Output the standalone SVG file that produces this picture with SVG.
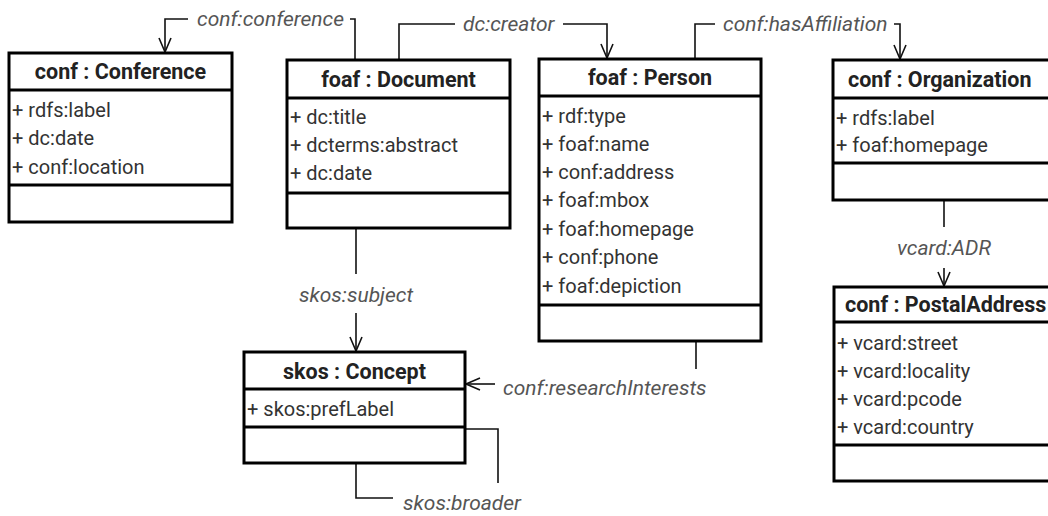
<svg xmlns="http://www.w3.org/2000/svg" width="1048" height="516" viewBox="0 0 1048 516">
<style>
.box{fill:#fff;stroke:#000;stroke-width:3}
.div{stroke:#000;stroke-width:3}
.title{font-family:Roboto,"Liberation Sans",sans-serif;font-weight:bold;font-size:21.5px;fill:#222;text-anchor:middle}
.attr{font-family:Roboto,"Liberation Sans",sans-serif;font-size:20px;fill:#333}
.lbl{font-family:Roboto,"Liberation Sans",sans-serif;font-style:italic;font-size:21px;fill:#555}
.con{fill:none;stroke:#111;stroke-width:1.6}
</style>
<defs>
<marker id="arr" markerUnits="userSpaceOnUse" markerWidth="20" markerHeight="20" refX="15" refY="7" orient="auto">
<path d="M1,1 L15,7 L1,13" fill="none" stroke="#111" stroke-width="1.6"/>
</marker>
</defs>
<rect width="1048" height="516" fill="#fff"/>
<g id="connectors">
<path class="con" d="M355,60 V19 H350"/>
<path class="con" d="M188,19 H165 V52" marker-end="url(#arr)"/>
<text class="lbl" x="197" y="26">conf:conference</text>
<path class="con" d="M399,60 V24 H455"/>
<path class="con" d="M563,24 H607 V58" marker-end="url(#arr)"/>
<text class="lbl" x="463" y="31">dc:creator</text>
<path class="con" d="M695,59 V24 H715"/>
<path class="con" d="M894,24 H900 V59" marker-end="url(#arr)"/>
<text class="lbl" x="723" y="31">conf:hasAffiliation</text>
<path class="con" d="M944,200 V227"/>
<path class="con" d="M944,268 V286" marker-end="url(#arr)"/>
<text class="lbl" x="944" y="255" text-anchor="middle">vcard:ADR</text>
<path class="con" d="M356,228 V274"/>
<path class="con" d="M356,313 V351" marker-end="url(#arr)"/>
<text class="lbl" x="356" y="302" text-anchor="middle">skos:subject</text>
<path class="con" d="M696,341 V369"/>
<path class="con" d="M495,384 H466" marker-end="url(#arr)"/>
<text class="lbl" x="503" y="395">conf:researchInterests</text>
<path class="con" d="M465,429 H498 V483"/>
<path class="con" d="M356,463 V498 H393"/>
<text class="lbl" x="403" y="510">skos:broader</text>
</g>
<g id="conference">
<rect class="box" x="9" y="53" width="223" height="169"/>
<line class="div" x1="9" y1="90" x2="232" y2="90"/>
<line class="div" x1="9" y1="185" x2="232" y2="185"/>
<text class="title" x="120.5" y="79">conf : Conference</text>
<text class="attr" x="12" y="117">+ rdfs:label</text>
<text class="attr" x="12" y="145">+ dc:date</text>
<text class="attr" x="12" y="174">+ conf:location</text>
</g>
<g id="document">
<rect class="box" x="287" y="60" width="223" height="168"/>
<line class="div" x1="287" y1="98" x2="510" y2="98"/>
<line class="div" x1="287" y1="193" x2="510" y2="193"/>
<text class="title" x="398.5" y="87">foaf : Document</text>
<text class="attr" x="290" y="124">+ dc:title</text>
<text class="attr" x="290" y="152">+ dcterms:abstract</text>
<text class="attr" x="290" y="180">+ dc:date</text>
</g>
<g id="person">
<rect class="box" x="539" y="59" width="222" height="282"/>
<line class="div" x1="539" y1="96" x2="761" y2="96"/>
<line class="div" x1="539" y1="305" x2="761" y2="305"/>
<text class="title" x="650" y="85">foaf : Person</text>
<text class="attr" x="542" y="123">+ rdf:type</text>
<text class="attr" x="542" y="151">+ foaf:name</text>
<text class="attr" x="542" y="179">+ conf:address</text>
<text class="attr" x="542" y="207">+ foaf:mbox</text>
<text class="attr" x="542" y="236">+ foaf:homepage</text>
<text class="attr" x="542" y="264">+ conf:phone</text>
<text class="attr" x="542" y="293">+ foaf:depiction</text>
</g>
<g id="organization">
<rect class="box" x="833" y="60" width="240" height="140"/>
<line class="div" x1="833" y1="98" x2="1073" y2="98"/>
<line class="div" x1="833" y1="163" x2="1073" y2="163"/>
<text class="title" x="848" y="87" style="text-anchor:start">conf : Organization</text>
<text class="attr" x="836" y="125">+ rdfs:label</text>
<text class="attr" x="836" y="152">+ foaf:homepage</text>
</g>
<g id="postaladdress">
<rect class="box" x="834" y="287" width="240" height="194"/>
<line class="div" x1="834" y1="322" x2="1074" y2="322"/>
<line class="div" x1="834" y1="445" x2="1074" y2="445"/>
<text class="title" x="845" y="312" style="text-anchor:start">conf : PostalAddress</text>
<text class="attr" x="837" y="350">+ vcard:street</text>
<text class="attr" x="837" y="378">+ vcard:locality</text>
<text class="attr" x="837" y="406">+ vcard:pcode</text>
<text class="attr" x="837" y="434">+ vcard:country</text>
</g>
<g id="concept">
<rect class="box" x="244" y="352" width="221" height="111"/>
<line class="div" x1="244" y1="389" x2="465" y2="389"/>
<line class="div" x1="244" y1="427" x2="465" y2="427"/>
<text class="title" x="354.5" y="379">skos : Concept</text>
<text class="attr" x="247" y="416">+ skos:prefLabel</text>
</g>
</svg>
